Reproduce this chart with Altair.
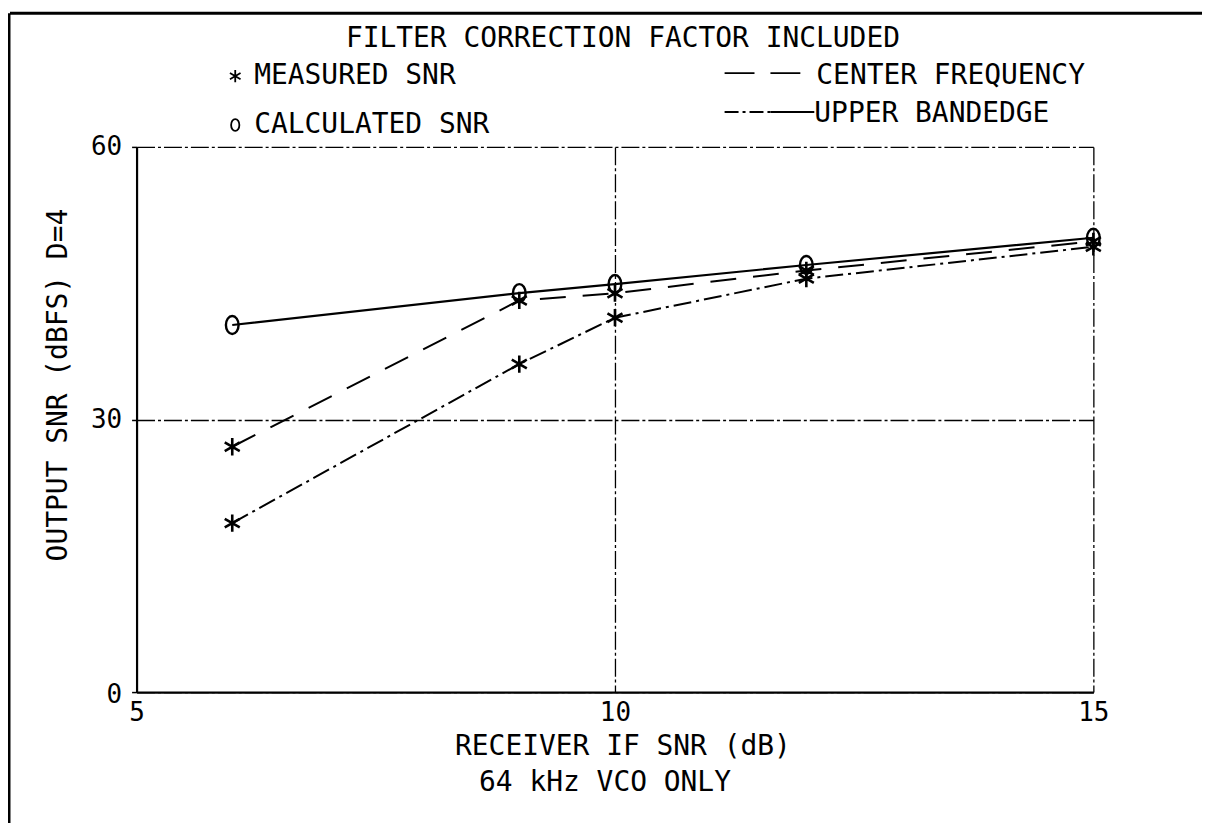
import altair as alt
import pandas as pd

# ---- data ----
x_if_snr = [6, 9, 10, 12, 15]
calculated_snr = [40.4, 43.9, 44.9, 47.0, 50.0]
measured_center = [27.0, 43.1, 43.9, 46.4, 49.6]
measured_upper = [18.6, 36.1, 41.2, 45.5, 49.0]

x_ticks = [5, 10, 15]
y_ticks = [0, 30, 60]

title_text = "FILTER CORRECTION FACTOR INCLUDED"
legend_measured = "MEASURED SNR"
legend_calculated = "CALCULATED SNR"
legend_center = "CENTER FREQUENCY"
legend_upper = "UPPER BANDEDGE"
x_title_lines = ["RECEIVER IF SNR (dB)", "64 kHz VCO ONLY"]
y_title = "OUTPUT SNR (dBFS)  D=4"

FONT = "DejaVu Sans Mono"
STAR = "M0,-1L0,1M-0.87,-0.5L0.87,0.5M-0.87,0.5L0.87,-0.5"
OVAL = "M0,-1A0.7,1 0 1,1 0,1A0.7,1 0 1,1 0,-1Z"
GRID_DASH = [18, 3, 3, 3]

df_calc = pd.DataFrame({"x": x_if_snr, "y": calculated_snr})
df_cf = pd.DataFrame({"x": x_if_snr, "y": measured_center})
df_ub = pd.DataFrame({"x": x_if_snr, "y": measured_upper})
one = pd.DataFrame({"a": [0]})

x_enc = alt.X(
    "x:Q",
    scale=alt.Scale(domain=[5, 15], nice=False, zero=False),
    axis=alt.Axis(
        values=x_ticks, title=None, grid=True, gridDash=GRID_DASH,
        gridColor="black", gridWidth=1.3, gridOpacity=1,
        domainColor="black", domainWidth=2.2, ticks=False,
        labelPadding=8, labelFont=FONT, labelFontSize=26,
        labelColor="black", labelFlush=False, format="d",
    ),
)
y_enc = alt.Y(
    "y:Q",
    scale=alt.Scale(domain=[0, 60], nice=False),
    axis=alt.Axis(
        values=y_ticks, title=None, grid=True, gridDash=GRID_DASH,
        gridColor="black", gridWidth=1.3, gridOpacity=1,
        domainColor="black", domainWidth=2.2, ticks=True, tickSize=5,
        tickColor="black", tickWidth=1.5, labelPadding=10,
        labelFont=FONT, labelFontSize=26, labelColor="black",
        labelFlush=False, format="d",
        labelOffset={"condition": {"test": "datum.value === 0", "value": 2}, "value": 0},
    ),
)

line_calc = alt.Chart(df_calc).mark_line(color="black", strokeWidth=2.2).encode(x=x_enc, y=y_enc)
line_cf = alt.Chart(df_cf).mark_line(color="black", strokeWidth=2, strokeDash=[26, 17]).encode(x=x_enc, y=y_enc)
line_ub = alt.Chart(df_ub).mark_line(color="black", strokeWidth=2, strokeDash=[18, 5, 3, 5]).encode(x=x_enc, y=y_enc)

pts_calc = alt.Chart(df_calc).mark_point(shape=OVAL, size=330, color="black", filled=False, strokeWidth=2.4, opacity=1).encode(x=x_enc, y=y_enc)
pts_cf = alt.Chart(df_cf).mark_point(shape=STAR, size=300, color="black", filled=False, strokeWidth=2.6, opacity=1).encode(x=x_enc, y=y_enc)
pts_ub = alt.Chart(df_ub).mark_point(shape=STAR, size=300, color="black", filled=False, strokeWidth=2.6, opacity=1).encode(x=x_enc, y=y_enc)

# outer frame of the figure (top and left)
frame_top = alt.Chart(one).mark_rule(color="black", strokeWidth=3).encode(
    x=alt.value(-127), x2=alt.value(1100), y=alt.value(-134))
frame_left = alt.Chart(one).mark_rule(color="black", strokeWidth=3).encode(
    x=alt.value(-128), y=alt.value(-134), y2=alt.value(720))


def txt(text, x, y, align="left", size=28, angle=0):
    return alt.Chart(one).mark_text(
        text=text, font=FONT, fontSize=size, color="black", align=align,
        baseline="middle", angle=angle,
    ).encode(x=alt.value(x), y=alt.value(y))


title = txt(title_text, 488, -108, align="center")
leg_star = alt.Chart(one).mark_point(shape=STAR, size=150, color="black", filled=False, strokeWidth=1.8, opacity=1).encode(
    x=alt.value(99), y=alt.value(-71))
leg_oval = alt.Chart(one).mark_point(shape=OVAL, size=140, color="black", filled=False, strokeWidth=1.8, opacity=1).encode(
    x=alt.value(99), y=alt.value(-22))
leg_t1 = txt(legend_measured, 118, -71)
leg_t2 = txt(legend_calculated, 118, -22)
leg_cf_line = alt.Chart(one).mark_rule(color="black", strokeWidth=1.8, strokeDash=[30, 16]).encode(
    x=alt.value(590), x2=alt.value(666), y=alt.value(-74))
leg_t3 = txt(legend_center, 682, -71)
leg_ub_line1 = alt.Chart(one).mark_rule(color="black", strokeWidth=1.8, strokeDash=[14, 4, 3, 4]).encode(
    x=alt.value(590), x2=alt.value(636), y=alt.value(-35))
leg_ub_line2 = alt.Chart(one).mark_rule(color="black", strokeWidth=1.8).encode(
    x=alt.value(636), x2=alt.value(680), y=alt.value(-35))
leg_t4 = txt(legend_upper, 680, -33)

x_title1 = txt(x_title_lines[0], 488, 602, align="center")
x_title2 = txt(x_title_lines[1], 470, 638, align="center")
y_title_t = txt(y_title, -78, 239, align="center", angle=270)

chart = alt.layer(
    frame_top, frame_left,
    line_calc, line_cf, line_ub,
    pts_calc, pts_cf, pts_ub,
    title, leg_star, leg_oval, leg_t1, leg_t2, leg_cf_line, leg_t3,
    leg_ub_line1, leg_ub_line2, leg_t4,
    x_title1, x_title2, y_title_t,
).properties(
    width=960, height=547,
    autosize=alt.AutoSizeParams(type="none"),
    padding={"left": 129, "top": 138, "right": 109, "bottom": 130},
    background="white",
).configure_view(stroke=None)

chart.save("out.html", embed_options={"renderer": "svg", "actions": False})
